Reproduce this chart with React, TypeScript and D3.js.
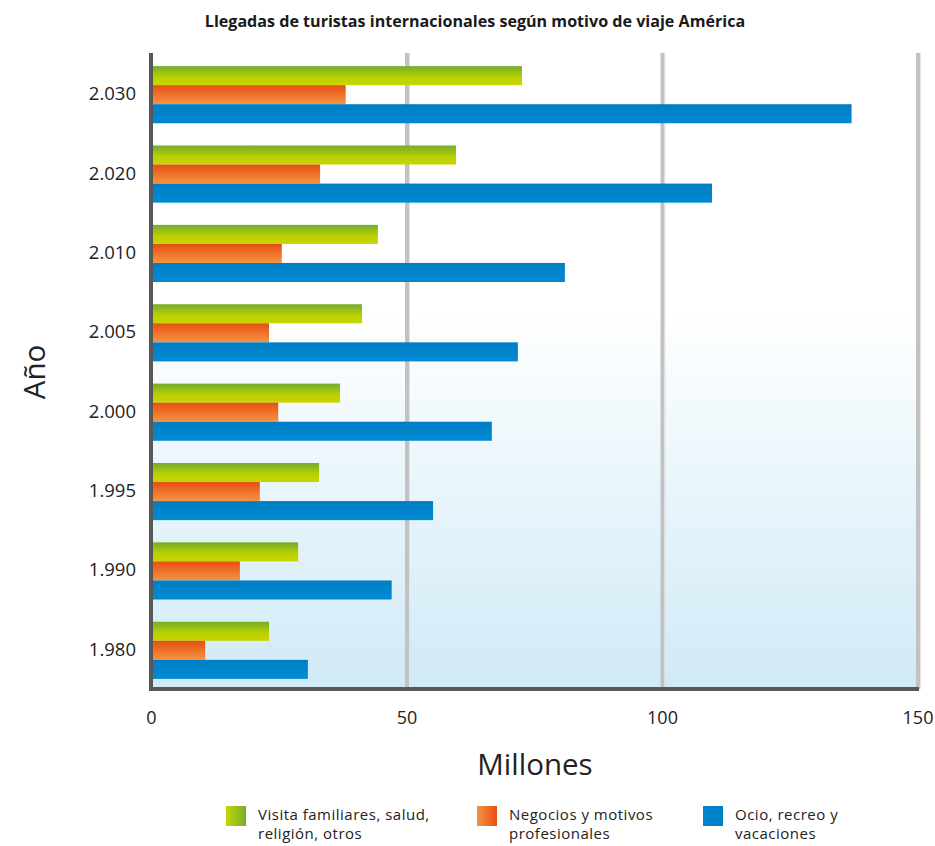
import React from "react";
import * as d3 from "d3";

const years = ["2.030", "2.020", "2.010", "2.005", "2.000", "1.995", "1.990", "1.980"];
const visita = [72.5, 59.6, 44.3, 41.2, 36.9, 32.8, 28.7, 23.0];
const negocios = [38.0, 33.0, 25.5, 23.0, 24.8, 21.2, 17.3, 10.5];
const ocio = [137.0, 109.7, 80.9, 71.7, 66.6, 55.1, 47.0, 30.6];
const xTicks = [0, 50, 100, 150];
const seriesNames = ["Visita familiares, salud,|religión, otros", "Negocios y motivos|profesionales", "Ocio, recreo y|vacaciones"];

const FONT = "'Open Sans', Lato, sans-serif";

export default function App() {
  const W = 935, H = 846;
  const x = d3.scaleLinear().domain([0, 150]).range([151.5, 918]);
  const y = d3.scaleBand<string>().domain(years).range([55, 690]).paddingInner(0.28).paddingOuter(0.14);
  const sub = d3.scaleBand<number>().domain([0, 1, 2]).range([0, y.bandwidth()]).padding(0);
  const top = 53, bottom = 689;
  const series = [
    { vals: visita, fill: "url(#gGreen)", leg: "url(#lGreen)" },
    { vals: negocios, fill: "url(#gOrange)", leg: "url(#lOrange)" },
    { vals: ocio, fill: "url(#gBlue)", leg: "url(#lBlue)" },
  ];
  const legendX = [226, 477, 703];
  return (
    <svg width={W} height={H} style={{ display: "block", position: "absolute", left: 0, top: 0 }}>
      <defs>
        <linearGradient id="bg" x1="0" y1="0" x2="0" y2="1">
          <stop offset="0" stopColor="#ffffff" />
          <stop offset="0.4" stopColor="#ffffff" />
          <stop offset="1" stopColor="#d0eaf6" />
        </linearGradient>
        <linearGradient id="gGreen" x1="0" y1="0" x2="0" y2="1">
          <stop offset="0" stopColor="#72ae2c" />
          <stop offset="0.6" stopColor="#bcd000" />
          <stop offset="1" stopColor="#c8d600" />
        </linearGradient>
        <linearGradient id="gOrange" x1="0" y1="0" x2="0" y2="1">
          <stop offset="0" stopColor="#e84e12" />
          <stop offset="1" stopColor="#f49442" />
        </linearGradient>
        <linearGradient id="gBlue" x1="0" y1="0" x2="0" y2="1">
          <stop offset="0" stopColor="#007ec4" />
          <stop offset="1" stopColor="#008ad3" />
        </linearGradient>
        <linearGradient id="lGreen" x1="0" y1="0" x2="1" y2="0">
          <stop offset="0" stopColor="#c8d600" />
          <stop offset="1" stopColor="#72ae2c" />
        </linearGradient>
        <linearGradient id="lOrange" x1="0" y1="0" x2="1" y2="0">
          <stop offset="0" stopColor="#f49442" />
          <stop offset="1" stopColor="#e84e12" />
        </linearGradient>
        <linearGradient id="lBlue" x1="0" y1="0" x2="1" y2="0">
          <stop offset="0" stopColor="#0088d0" />
          <stop offset="1" stopColor="#007ec4" />
        </linearGradient>
      </defs>
      <rect x={0} y={0} width={W} height={H} fill="#ffffff" />
      <text x={475} y={27} textAnchor="middle" fontFamily={FONT} fontWeight={700} fontSize={16.1} fill="#1a1a1a">
        Llegadas de turistas internacionales según motivo de viaje América
      </text>
      <rect x={x(0)} y={top} width={x(150) - x(0)} height={bottom - top} fill="url(#bg)" />
      {xTicks.filter((t) => t > 0).map((t) => (
        <g key={t}>
          <line x1={x(t)} x2={x(t)} y1={top} y2={bottom} stroke="#c2c2c2" strokeWidth={4} />
          <line x1={x(t) + 2.5} x2={x(t) + 2.5} y1={top} y2={bottom} stroke="#e4e4e4" strokeWidth={1} />
        </g>
      ))}
      {years.map((yr, i) => (
        <g key={yr}>
          {series.map((s, k) => (
            <rect key={k} x={x(0)} y={(y(yr) as number) + (sub(k) as number)} width={x(s.vals[i]) - x(0)} height={sub.bandwidth()} fill={s.fill} />
          ))}
          <text x={136} y={(y(yr) as number) + y.bandwidth() / 2 + 5.5} textAnchor="end" fontFamily={FONT} fontSize={18.5} fill="#222">
            {yr}
          </text>
        </g>
      ))}
      <line x1={151} x2={151} y1={top} y2={bottom + 2} stroke="#575757" strokeWidth={4} />
      <line x1={149} x2={919} y1={bottom} y2={bottom} stroke="#575757" strokeWidth={4} />
      {xTicks.map((t) => (
        <text key={t} x={x(t)} y={724} textAnchor="middle" fontFamily={FONT} fontSize={18} fill="#222">
          {t}
        </text>
      ))}
      <text x={535} y={775} textAnchor="middle" fontFamily={FONT} fontSize={29.5} fill="#222">
        Millones
      </text>
      <text transform="translate(45,372) rotate(-90)" textAnchor="middle" fontFamily={FONT} fontSize={29.5} fill="#222">
        Año
      </text>
      {series.map((s, k) => (
        <g key={k}>
          <rect x={legendX[k]} y={806} width={20} height={20} fill={s.leg} />
          {seriesNames[k].split("|").map((ln, j) => (
            <text key={j} x={legendX[k] + 32} y={820 + j * 19} fontFamily={FONT} fontSize={15} letterSpacing={0.5} fill="#222">
              {ln}
            </text>
          ))}
        </g>
      ))}
    </svg>
  );
}
